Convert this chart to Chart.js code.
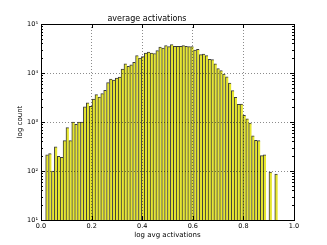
<!DOCTYPE html>
<html><head><meta charset="utf-8">
<script src="https://cdn.jsdelivr.net/npm/chart.js@4/dist/chart.umd.min.js"></script>
<style>html,body{margin:0;padding:0;background:#fff}canvas{display:block}</style>
</head><body>
<div style="width:327px;height:245px"><canvas id="c" width="327" height="245"></canvas></div>
<script>
// histogram bins (80 bins)
const binStart = 0.0185;
const binWidth = 0.011462;
const counts = [215,226,100,310,200,190,416,770,416,1000,
  900,1000,1000,2050,2460,2080,2950,3610,3240,3800,
  4430,6350,7540,7200,7900,8280,12000,15300,13700,14600,
  16500,22600,20200,21600,25600,26800,25600,25000,28600,34000,
  32400,36100,34500,37900,35000,35000,35000,36100,35000,34500,
  34500,29500,30400,23700,24400,22700,19000,18700,15300,12250,
  11200,9550,8400,6250,4360,3190,2290,2330,1370,1160,
  950,525,423,416,206,215,null,95,null,87];
const xTicks = [0.0,0.2,0.4,0.6,0.8,1.0];
const yTicks = [10,100,1000,10000,100000];
const yMinor = [2,3,4,5,6,7,8,9];

const sup = ['\u2070','\u00b9','\u00b2','\u00b3','\u2074','\u2075'];
const FAM = 'DejaVu Sans';
const data = counts.map((c,i)=>({x: binStart + (i+0.5)*binWidth, y: c}));

const frameTicks = {
  id:'frameTicks',
  afterDraw(chart){
    const {ctx, chartArea:a, scales:{x,y}} = chart;
    ctx.save();
    ctx.strokeStyle='#000'; ctx.lineWidth=1;
    ctx.beginPath();
    xTicks.forEach(v=>{
      const px=Math.round(x.getPixelForValue(v))+0.5;
      ctx.moveTo(px,a.bottom); ctx.lineTo(px,a.bottom-4);
      ctx.moveTo(px,a.top); ctx.lineTo(px,a.top+4);
    });
    yTicks.forEach(v=>{
      const py=Math.round(y.getPixelForValue(v))+0.5;
      ctx.moveTo(a.left,py); ctx.lineTo(a.left+4,py);
      ctx.moveTo(a.right,py); ctx.lineTo(a.right-4,py);
    });
    yTicks.slice(0,-1).forEach(d=>{
      yMinor.forEach(m=>{
        const py=Math.round(y.getPixelForValue(d*m))+0.5;
        ctx.moveTo(a.left,py); ctx.lineTo(a.left+2,py);
        ctx.moveTo(a.right,py); ctx.lineTo(a.right-2,py);
      });
    });
    ctx.stroke();
    ctx.strokeRect(Math.round(a.left)+0.5, Math.round(a.top)+0.5, Math.round(a.right-a.left), Math.round(a.bottom-a.top));
    ctx.restore();
  }
};

new Chart(document.getElementById('c'), {
  type:'bar',
  data:{datasets:[{
    data,
    backgroundColor:'#e6e630',
    borderColor:'#3a3a3a',
    borderWidth:{left:1,top:1,right:0,bottom:0},
    borderSkipped:false,
    barPercentage:1,
    categoryPercentage:1
  }]},
  options:{
    responsive:false,
    animation:false,
    layout:{padding:{left:0,right:33,top:0,bottom:0}},
    plugins:{
      legend:{display:false},
      tooltip:{enabled:false},
      title:{display:true,text:'average activations',color:'#000',
        font:{family:FAM,size:8,weight:'normal'},padding:{top:14.4,bottom:0}}
    },
    scales:{
      x:{
        type:'linear', min:0, max:1, offset:false,
        afterBuildTicks:s=>{s.ticks=xTicks.map(v=>({value:v}));},
        afterFit:s=>{s.height=25;},
        ticks:{callback:v=>v.toFixed(1),color:'#000',font:{family:FAM,size:6.5},padding:2,maxRotation:0,autoSkip:false},
        grid:{color:'rgba(0,0,0,0.45)',lineWidth:1,drawTicks:false,offset:false,z:1},
        border:{display:false,dash:[1,2]},
        title:{display:true,text:'log avg activations',color:'#000',font:{family:FAM,size:7},padding:{top:0,bottom:5.5}}
      },
      y:{
        type:'logarithmic', min:10, max:100000,
        afterBuildTicks:s=>{s.ticks=yTicks.map(v=>({value:v}));},
        afterFit:s=>{s.width=41;},
        ticks:{callback:v=>'10'+sup[Math.round(Math.log10(v))],color:'#000',font:{family:FAM,size:6.5},padding:3,autoSkip:false},
        grid:{color:'rgba(0,0,0,0.45)',lineWidth:1,drawTicks:false,offset:false,z:1},
        border:{display:false,dash:[1,2]},
        title:{display:true,text:'log count',color:'#000',font:{family:FAM,size:7},padding:{top:15.8,bottom:0}}
      }
    }
  },
  plugins:[frameTicks]
});
</script>
</body></html>
